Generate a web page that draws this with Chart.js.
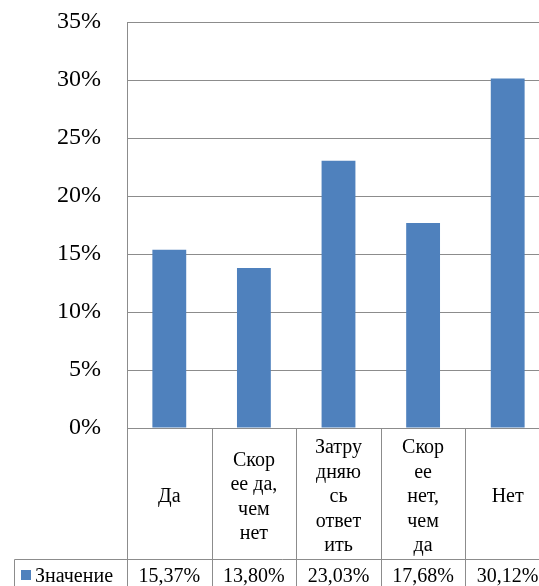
<!DOCTYPE html>
<html>
<head>
<meta charset="utf-8">
<script src="https://cdn.jsdelivr.net/npm/chart.js@4/dist/chart.umd.min.js"></script>
<style>
  html, body { margin: 0; padding: 0; overflow: hidden; background: #fff; }
  #wrap { width: 551px; height: 600px; }
</style>
</head>
<body>
<div id="wrap"><canvas id="chart" width="551" height="600"></canvas></div>
<script>
// Данные диаграммы
const categories = ['Да', 'Скорее да, чем нет', 'Затрудняюсь ответить', 'Скорее нет, чем да', 'Нет'];
// переносы строк как на картинке
const categoryLines = [
  ['Да'],
  ['Скор', 'ее да,', 'чем', 'нет'],
  ['Затру', 'дняю', 'сь', 'ответ', 'ить'],
  ['Скор', 'ее', 'нет,', 'чем', 'да'],
  ['Нет']
];
const seriesName = 'Значение';
const values = [15.37, 13.80, 23.03, 17.68, 30.12];
const yTicks = [0, 5, 10, 15, 20, 25, 30, 35];

const barColor = '#4F81BD';
const lineColor = '#8C8C8C';
const fontFamily = '"Liberation Serif", serif';

// таблица данных под графиком (как в Excel)
const dataTable = {
  id: 'dataTable',
  afterDraw(chart) {
    const ctx = chart.ctx;
    const area = chart.chartArea;
    const x = chart.scales.x;
    const n = categories.length;
    const top = Math.round(area.bottom) + 0.5;
    const rowLine = 559.5;
    const bottom = chart.height;
    const legendLeft = 14.5;

    const bounds = [area.left];
    for (let i = 0; i < n - 1; i++) {
      bounds.push((x.getPixelForValue(i) + x.getPixelForValue(i + 1)) / 2);
    }
    bounds.push(area.right);

    ctx.save();
    ctx.strokeStyle = lineColor;
    ctx.lineWidth = 1;
    ctx.beginPath();
    ctx.moveTo(bounds[0], top);
    ctx.lineTo(bounds[n], top);
    ctx.moveTo(legendLeft, rowLine);
    ctx.lineTo(bounds[n], rowLine);
    ctx.moveTo(legendLeft, rowLine);
    ctx.lineTo(legendLeft, bottom);
    bounds.forEach(b => {
      const bx = Math.round(b) + 0.5;
      ctx.moveTo(bx, top);
      ctx.lineTo(bx, bottom);
    });
    ctx.stroke();

    ctx.fillStyle = '#000';
    ctx.font = '20px ' + fontFamily;
    ctx.textAlign = 'center';
    ctx.textBaseline = 'middle';
    const lh = 24.5;
    const midHeader = (top + rowLine) / 2 + 3;
    categoryLines.forEach((lines, i) => {
      const cx = x.getPixelForValue(i);
      const y0 = midHeader - (lines.length - 1) * lh / 2;
      lines.forEach((t, j) => ctx.fillText(t, cx, y0 + j * lh));
    });

    const midRow = 576.5;
    values.forEach((v, i) => {
      ctx.fillText(v.toFixed(2).replace('.', ',') + '%', x.getPixelForValue(i), midRow);
    });

    // легенда
    ctx.fillStyle = barColor;
    ctx.fillRect(21, 570, 10, 10);
    ctx.fillStyle = '#000';
    ctx.textAlign = 'left';
    ctx.fillText(seriesName, 35, midRow);
    ctx.restore();
  }
};

new Chart(document.getElementById('chart').getContext('2d'), {
  type: 'bar',
  data: {
    labels: categories,
    datasets: [{
      label: seriesName,
      data: values,
      backgroundColor: barColor,
      borderWidth: 0,
      barPercentage: 0.4,
      categoryPercentage: 1.0
    }]
  },
  options: {
    responsive: false,
    animation: false,
    layout: { padding: { top: 22, right: 1, bottom: 172, left: 0 } },
    plugins: {
      legend: { display: false },
      tooltip: { enabled: false }
    },
    scales: {
      x: { display: false },
      y: {
        min: yTicks[0],
        max: yTicks[yTicks.length - 1],
        afterBuildTicks: s => { s.ticks = yTicks.map(v => ({ value: v })); },
        afterFit: s => { s.width = 127; s.paddingTop = 0; s.paddingBottom = 0; },
        border: { display: true, color: lineColor, width: 1 },
        grid: { color: lineColor, lineWidth: 1, drawTicks: false },
        ticks: {
          padding: 26,
          color: '#000',
          font: { family: fontFamily, size: 24 },
          callback: v => v + '%'
        }
      }
    }
  },
  plugins: [dataTable]
});
</script>
</body>
</html>
